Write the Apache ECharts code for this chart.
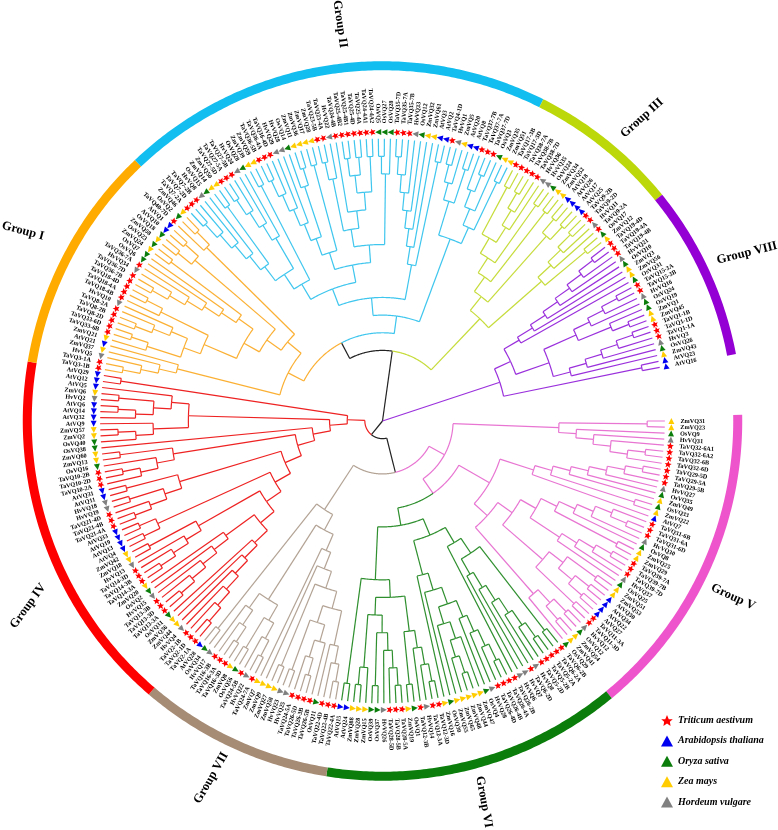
<!DOCTYPE html>
<html><head><meta charset="utf-8">
<style>html,body{margin:0;padding:0;background:#fff}#c{width:778px;height:830px}</style>
<script src="https://cdn.jsdelivr.net/npm/echarts@6/dist/echarts.min.js"></script>
</head><body><div id="c"></div>
<script>
// ---------- leaf labels, clockwise from the gap at 3 o'clock ----------
const namesV=["ZmVQ31","ZmVQ23","OsVQ9","HvVQ31","TaVQ32-6A1","TaVQ32-6A2","TaVQ32-6B","TaVQ32-6D","TaVQ29-5D","TaVQ29-5A","TaVQ29-5B","HvVQ27","OsVQ35","ZmVQ49","OsVQ33","ZmVQ22","AtVQ7","TaVQ31-6B","TaVQ31-6A","TaVQ31-6D","HvVQ30","OsVQ8","ZmVQ25","ZmVQ29","TaVQ39-7A","TaVQ39-7B","TaVQ39-7D","HvVQ37","OsVQ25","ZmVQ51","ZmVQ53","AtVQ30","AtVQ34","AtVQ22","AtVQ27","TaVQ11-3A","TaVQ11-3D","HvVQ12","OsVQ12","ZmVQ54","ZmVQ41","OsVQ29"];
const namesVI=["TaVQ6-2B","TaVQ6-2A","TaVQ5-2A","TaVQ5-2B","TaVQ5-2D","HvVQ8","TaVQ6-2D","HvVQ7","HvVQ6","TaVQ26-2B","TaVQ26-4A","TaVQ26-4B","TaVQ26-4D","HvVQ28","OsVQ4","ZmVQ47","ZmVQ44","ZmVQ48","ZmVQ65","ZmVQ55","OsVQ30","ZmVQ16","TaVQ12-3D","TaVQ12-3A","HvVQ14","TaVQ12-3B","OsVQ1","ZmVQ19","TaVQ28-5A","TaVQ28-5B","TaVQ28-5D","HvVQ26","OsVQ37","OsVQ39","ZmVQ15","ZmVQ28","ZmVQ88","AtVQ24","AtVQ15"];
const namesVII=["TaVQ22-4A","TaVQ22-4B","TaVQ22-4D","OsVQ11","TaVQ26-5B","TaVQ26-3B","TaVQ26-5D","TaVQ24-5A","HvVQ25","HvVQ23","ZmVQ58","ZmVQ27","ZmVQ9","ZmVQ7","TaVQ24-7A","HvVQ22","TaVQ24-5B","OsVQ56","ZmVQ8","TaVQ16-3D","TaVQ16-3A","TaVQ16-3B","HvVQ17","OsVQ34","AtVQ28"];
const namesIV=["TaVQ2-1A","TaVQ2-1D","TaVQ2-1B","HvVQ4","ZmVQ44","ZmVQ36","OsVQ31","TaVQ13-3A","TaVQ13-3D","TaVQ13-3B","HvVQ15","OsVQ2","ZmVQ20","TaVQ14-3A","TaVQ14-3B","TaVQ14-3D","HvVQ13","ZmVQ18","ZmVQ42","AtVQ4","AtVQ13","AtVQ19","AtVQ33","TaVQ21-4A","TaVQ21-4B","TaVQ21-4D","HvVQ19","HvVQ18","AtVQ11","AtVQ31","TaVQ10-2A","TaVQ10-2D","TaVQ10-2B","OsVQ16","ZmVQ13","ZmVQ60","OsVQ38","OsVQ40","ZmVQ2","ZmVQ57","AtVQ9","AtVQ32","AtVQ14","AtVQ6","HvVQ2","ZmVQ6","AtVQ5","AtVQ12","AtVQ29"];
const namesI=["TaVQ3-1B","TaVQ3-1A","HvVQ5","ZmVQ37","AtVQ21","ZmVQ21","TaVQ33-6B","TaVQ33-6D","TaVQ8-2D","TaVQ8-2B","TaVQ8-2A","HvVQ10","TaVQ18-4B","TaVQ18-4A","TaVQ18-4D","TaVQ36-7B","TaVQ36-7D","HvVQ34","TaVQ36-7A","OsVQ6","OsVQ7","ZmVQ24","OsVQ23","ZmVQ58","OsVQ18","AtVQ10","AtVQ1","TaVQ40-7D","OsVQ2","ZmVQ46"];
const namesII=["TaVQ7-2A","TaVQ7-2D","TaVQ7-2B","HvVQ8","OsVQ15","ZmVQ14","ZmVQ50","TaVQ27-5D","TaVQ27-5A","TaVQ27-5B","HvVQ24","OsVQ28","ZmVQ39","ZmVQ59","TaVQ36-5B","TaVQ36-4A","TaVQ36-4D","HvVQ29","HvVQ28","OsVQ14","ZmVQ11","ZmVQ36","ZmVQ17","ZmVQ28","TaVQ23-5B","TaVQ23-4A","HvVQ22","TaVQ24-4B","TaVQ25-4B2","TaVQ25-4B1","TaVQ25-4D","TaVQ25-4A","TaVQ24-4A1","TaVQ24-4A2","OsVQ5","OsVQ27","OsVQ28","TaVQ35-7D","TaVQ35-7A","TaVQ35-7B","HvVQ33","OsVQ12","ZmVQ32","ZmVQ61","AtVQ3","AtVQ2","TaVQ4-1D","HvVQ1","ZmVQ5","AtVQ20","AtVQ8","TaVQ37-7B","TaVQ37-7A","TaVQ37-7D","OsVQ3","ZmVQ35","ZmVQ51"];
const namesIII=["TaVQ17-3B","TaVQ17-3D","TaVQ38-7A","TaVQ38-7B","TaVQ38-7D","HvVQ36","HvVQ35","OsVQ24","ZmVQ34","ZmVQ52","AtVQ18","AtVQ26","AtVQ17","AtVQ25","TaVQ9-2B","TaVQ9-2D","HvVQ11","TaVQ9-2A","OsVQ17","ZmVQ12"];
const namesVIII=["TaVQ19-4D","TaVQ19-4A","TaVQ19-4B","HvVQ21","OsVQ10","ZmVQ3","ZmVQ56","OsVQ31","TaVQ15-3A","TaVQ15-3B","HvVQ16","OsVQ24","OsVQ19","ZmVQ1","ZmVQ45","TaVQ1-1B","TaVQ1-1D","TaVQ1-1A","HvVQ3","OsVQ26","ZmVQ43","AtVQ23","AtVQ16"];
const leaves=[...namesV,...namesVI,...namesVII,...namesIV,...namesI,...namesII,...namesIII,...namesVIII];

// ---------- tree topology: nested pairs of leaf numbers ----------
// Group V
const treeVtop=[[0,1],[2,[3,[4,[[5,6],7]]]]];
const v1=[[[[[[8,9],10],11],12],13],[14,15]];
const v2=[[[[[18,19],17],20],21],[22,23]];
const v3=[[[[24,25],26],27],28];
const v4=[[[29,30],[[31,32],[33,34]]],[35,36]];
const v5=[[[37,38],[39,40]],41];
const treeVlow=[[v1,16],[[[v2,v3],v4],v5]];
// Group VI
const g1=[[[42,43],[[[[[[44,45],46],47],48],49],50]],51];
const g2=[[[[[52,53],54],55],56],[[57,[[58,59],60]],61]];
const g3=[[g2,62],63];
const g4=[[[[64,65],66],67],[68,69]];
const g5=[[[[[70,71],72],73],[74,75]],[76,[77,78]]];
const treeVI=[[g1,g3],[[g4,g5],[79,80]]];
// Group VII
const b1=[[[81,82],83],84];
const b2=[[85,[[86,87],88]],[89,90]];
const b3=[[[[b1,b2],[91,92]],93],94];
const b4=[[[[95,96],97],[98,99]],[[[100,101],102],103]];
const treeVII=[[b3,b4],[104,105]];
// Group IV
const r1=[[[[[[106,107],108],109],110],111],112];
const r2=[[[[[113,114],115],116],117],118];
const r3=[[[[119,120],121],122],[123,124]];
const r4=[[125,126],[127,128]];
const r5=[[[[129,130],131],[132,133]],[134,135]];
const r6=[[[136,[137,138]],139],[140,141]];
const r7=[[[143,[144,145]],146],[[[[148,149],147],[150,151]],152]];
const rs=[[[[[[r1,r2],r3],r4],r5],r6],142];
const treeIV=[[rs,r7],[153,154]];
// Group I
const o1=[[[[155,156],157],158],159];
const o2=[[[160,[161,162]],[[[163,164],165],166]],[167,[168,169]]];
const o3=[[[[[[170,171],172],173],174],175],[176,177]];
const treeI=[o1,[[[o2,o3],[[178,179],[180,181]]],[182,[183,184]]]];
// Group II
const c1=[[[[[185,186],187],188],189],[190,191]];
const c2=[[[[192,193],194],195],196];
const c3=[[c1,c2],[197,198]];
const c4=[[[[[199,200],201],202],203],[204,[205,206]]];
const c5=[c4,[207,208]];
const c6=[[[209,210],211],[212,[[[213,214],[215,216]],[217,218]]]];
const c7=[c6,[[219,220],221]];
const c8=[[[[[[[222,223],224],225],226],227],228],[229,230]];
const c9=[[[[231,232],233],[234,235]],[[[236,[237,238]],239],[240,241]]];
const treeII=[[[c3,[c5,c7]],c8],c9];
// Group III
const l1=[[[242,243],[[[244,245],246],247]],[248,249]];
const l2=[[l1,[250,251]],[[252,253],[254,255]]];
const l3=[[[[256,257],258],259],[260,261]];
const treeIII=[l2,l3];
// Group VIII
const p1=[[[[[[[262,263],264],265],266],267],268],269];
const p2=[[[[270,271],272],273],[274,[275,276]]];
const p3=[[[[[277,278],279],280],281],282];
const treeVIII=[[p1,[p2,p3]],[283,284]];

// ---------- ring segments (leaf-position units) and legend ----------
const ringEnds=[-0.8,41,80.55,106.2,154.2,184.3,241.3,261.2,284.2];
const ringColors=["#ee55cc","#0a7d0a","#a68b75","#ff0000","#ffab00","#12bef0","#bcd80a","#9400d3"];
const speciesPrefix=["Ta","At","Os","Zm","Hv"];
const speciesNames=["Triticum aestivum","Arabidopsis thaliana","Oryza sativa","Zea mays","Hordeum vulgare"];
const speciesColors=["#ff0000","#0000f0","#0a7d0a","#ffcc00","#808080"];
const groupLabels=[["Group I",23,231,15],["Group II",340,24,82],["Group III",642,118,-42],["Group VIII",747,253,-14],["Group V",733,597,25],["Group VI",484,802,80],["Group VII",211,778,-60],["Group IV",28,606,-54]];

const C={black:"#222222",red:"#ee2222",brown:"#b3a395",pink:"#e875d2",green:"#2f8f2f",orange:"#fbb034",blue:"#3fc6ee",lime:"#c6dc3a",purple:"#9a30dc"};
const node=(c,k)=>({c,k});
const tree=node(C.black,[
  node(C.black,[node(C.red,treeIV),node(C.black,[node(C.brown,treeVII),node(C.pink,[treeVtop,node(C.pink,[treeVlow,node(C.green,treeVI)])])])]),
  node(C.black,[node(C.black,[node(C.orange,treeI),node(C.blue,treeII)]),node(C.lime,treeIII)]),
  node(C.purple,treeVIII)
]);

const TIP=16, STEP=1.229;           // tip level; degrees per leaf
const edges={};
function walk(n,col){
  if(typeof n==="number") return {h:0,i:n,c:col};
  const c=Array.isArray(n)?col:n.c, kids=(Array.isArray(n)?n:n.k).map(k=>walk(k,c));
  const h=1+Math.max(...kids.map(k=>k.h)), i=(kids[0].i+kids[kids.length-1].i)/2;
  return {h,i,c,kids};
}
function emit(n,isRoot){
  if(!n.kids) return;
  const L=TIP-n.h;
  n.kids.forEach(k=>{
    const e=edges[k.c]||(edges[k.c]=[]);
    e.push([L,k.i,TIP-k.h,k.i]);
    if(!isRoot) e.push([L,n.i,L,k.i]);
    emit(k,false);
  });
}
emit(walk(tree,C.black),true);

function pathItem(color,width){
  return function(params,api){
    const a=[api.value(0),api.value(1)], b=[api.value(2),api.value(3)], pts=[];
    if(a[0]===b[0]){
      const n=Math.max(1,Math.ceil(Math.abs(b[1]-a[1])/0.4));
      for(let j=0;j<=n;j++) pts.push(api.coord([a[0],a[1]+(b[1]-a[1])*j/n]));
    }else{pts.push(api.coord(a),api.coord(b));}
    return {type:"polyline",shape:{points:pts},style:{stroke:color,lineWidth:width,fill:null,lineCap:"butt",lineJoin:"round"},silent:true};
  };
}
const series=[];
Object.keys(edges).forEach(col=>series.push({type:"custom",coordinateSystem:"polar",silent:true,renderItem:pathItem(col,1.2),data:edges[col]}));
ringColors.forEach((col,i)=>series.push({type:"custom",coordinateSystem:"polar",silent:true,renderItem:pathItem(col,9),data:[[20.13,ringEnds[i],20.13,ringEnds[i+1]]]}));

const STAR="path://M0,-10 L2.9,-3.1 L9.5,-3.1 L4.7,1.2 L5.9,8.1 L0,4 L-5.9,8.1 L-4.7,1.2 L-9.5,-3.1 L-2.9,-3.1 Z";
speciesPrefix.forEach((p,s)=>{
  const data=[];
  leaves.forEach((nm,i)=>{if(nm.startsWith(p)) data.push([16.37,i]);});
  series.push({type:"scatter",coordinateSystem:"polar",name:speciesNames[s],silent:true,
    symbol:s===0?STAR:"triangle",symbolSize:s===0?7:6,
    symbolRotate:v=>-v[1]*STEP,itemStyle:{color:speciesColors[s],opacity:1},data});
});
series.push({type:"custom",coordinateSystem:"polar",silent:true,
  data:leaves.map((_,i)=>[16.88,i]),
  renderItem(params,api){
    const i=api.value(1), p=api.coord([api.value(0),i]), a=i*STEP, flip=a>90&&a<270;
    return {type:"text",x:p[0],y:p[1],rotation:(flip?180-a:-a)*Math.PI/180,silent:true,
      style:{text:leaves[params.dataIndex],font:'bold 6.2px "Liberation Serif"',fill:"#000",align:flip?"right":"left",verticalAlign:"middle"}};
  }});

const chart=echarts.init(document.getElementById("c"),null,{renderer:"canvas"});
chart.setOption({
  animation:false,backgroundColor:"#fff",tooltip:{show:false},
  polar:{center:[382.5,421],radius:360},
  radiusAxis:{show:false,type:"value",min:0,max:20.4},
  angleAxis:{show:false,type:"value",startAngle:0.98,min:-0.8,max:360/STEP-0.8,clockwise:true},
  legend:{orient:"vertical",left:656,top:710,itemWidth:12,itemHeight:11,itemGap:9.4,selectedMode:false,
    itemStyle:{opacity:1},
    textStyle:{fontFamily:"Liberation Serif",fontWeight:"bold",fontStyle:"italic",fontSize:10,color:"#000"},
    data:speciesNames.map((n,s)=>({name:n,icon:s===0?STAR:"triangle"}))},
  graphic:groupLabels.map(g=>({type:"text",x:g[1],y:g[2],rotation:-g[3]*Math.PI/180,silent:true,
    style:{text:g[0],font:'bold 12.5px "Liberation Serif"',fill:"#000",align:"center",verticalAlign:"middle"}})),
  series
});
</script></body></html>
